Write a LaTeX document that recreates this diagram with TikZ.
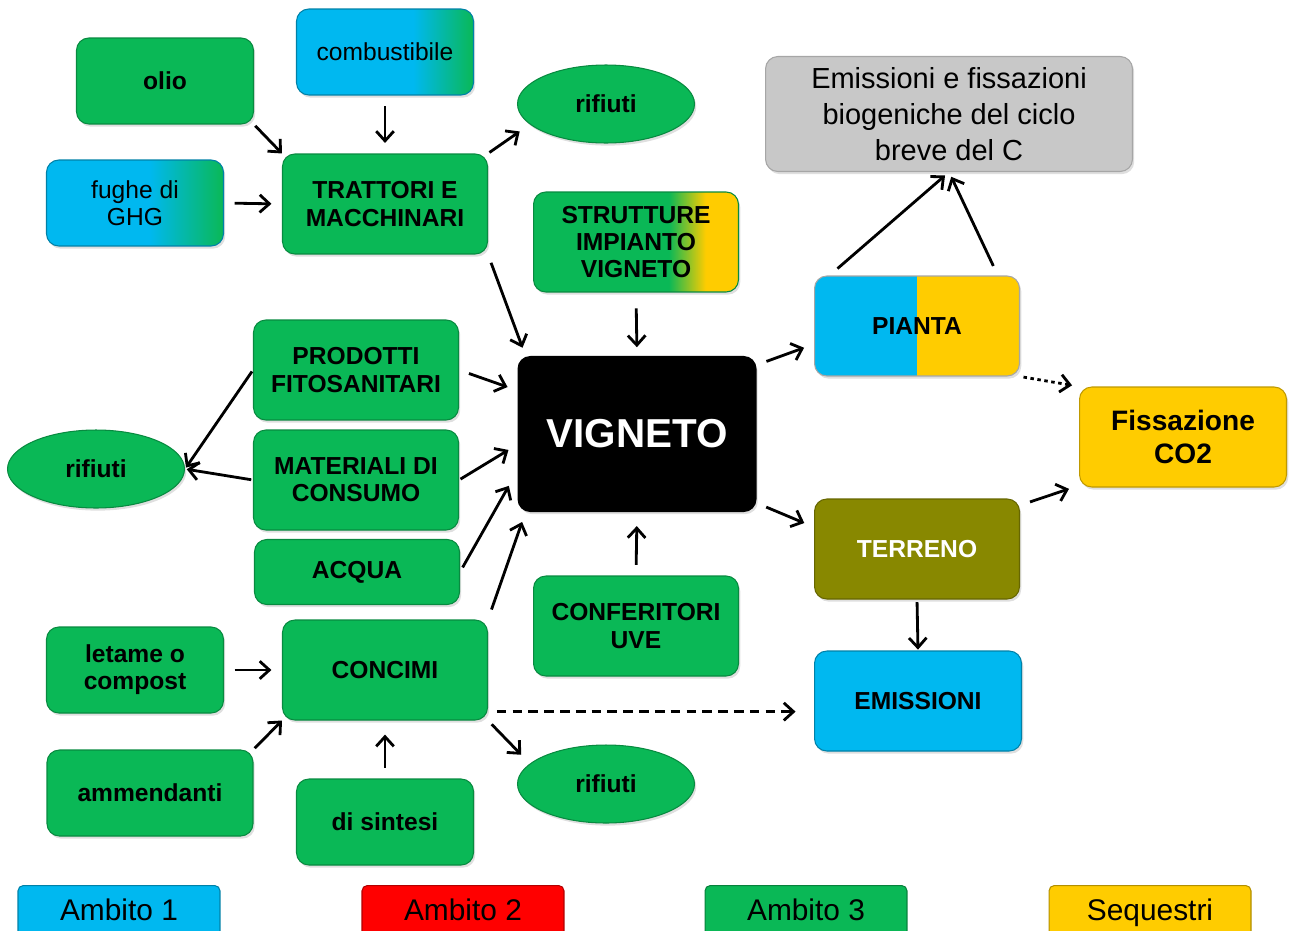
\documentclass[tikz,border=0pt]{standalone}
\usepackage{fontspec}
\setmainfont{Liberation Sans}
\usetikzlibrary{arrows,arrows.meta,shapes.geometric,shadows}

\definecolor{ambito1}{RGB}{0,184,240}
\definecolor{ambito2}{RGB}{255,0,0}
\definecolor{ambito3}{RGB}{10,184,86}
\definecolor{sequestri}{RGB}{255,204,0}
\definecolor{suolo}{RGB}{136,136,0}
\definecolor{biogenico}{RGB}{200,200,200}

% blocchi a due ambiti
\pgfdeclarehorizontalshading{fughe}{100bp}{color(0bp)=(ambito1); color(54bp)=(ambito1); color(75bp)=(ambito3); color(100bp)=(ambito3)}
\pgfdeclarehorizontalshading{comb}{100bp}{color(0bp)=(ambito1); color(58bp)=(ambito1); color(75bp)=(ambito3); color(100bp)=(ambito3)}
\pgfdeclarehorizontalshading{strutt}{100bp}{color(0bp)=(ambito3); color(58bp)=(ambito3); color(67bp)=(sequestri); color(100bp)=(sequestri)}

\newcommand{\blockfont}{\fontsize{14}{15.5}\selectfont\bfseries}
\newcommand{\plainfont}{\fontsize{14}{15.5}\selectfont}

\begin{document}
\begin{tikzpicture}[x=0.02cm,y=-0.02cm,>={Straight Barb[length=5.5pt,width=10pt]}]
\tikzstyle{block} = [rectangle, rounded corners=7pt, draw=ambito3!75!black, fill=ambito3,
line width=0.6pt, align=center, font=\blockfont, minimum width=4.1cm, minimum height=2cm,
inner sep=2pt, drop shadow={opacity=0.25,shadow xshift=1pt,shadow yshift=-1.5pt}]
\tikzstyle{block_in} = [block, minimum width=3.54cm, minimum height=1.72cm]
\tikzstyle{waste} = [ellipse, draw=ambito3!75!black, fill=ambito3, line width=0.6pt,
font=\blockfont, minimum width=3.54cm, minimum height=1.56cm, inner sep=0pt,
drop shadow={opacity=0.25,shadow xshift=1pt,shadow yshift=-1.5pt}]
\tikzstyle{legend} = [rectangle, rounded corners=3pt, line width=0.6pt, anchor=north,
font=\fontsize{17}{17}\selectfont, text height=12.5pt, text depth=3.5pt,
minimum width=4.04cm, minimum height=1.1cm]
\tikzstyle{line} = [draw, line width=1.6pt, ->, shorten <=6pt, shorten >=6pt]

\useasboundingbox (0,0) rectangle (1290,930);

% macchine
\node [block_in] (olio) at (165,81) {olio};
\node [block_in, shading=comb, draw=ambito1!70!black, font=\plainfont] (combustibile) at (385,52) {combustibile};
\node [block_in, shading=fughe, draw=ambito1!70!black, font=\plainfont] (fughe) at (135,203) {fughe di\\GHG};
\node [block] (trattori) at (385,204) {TRATTORI E\\MACCHINARI};
\node [waste] (rifiuti1) at (606,104) {rifiuti};
\node [block, shading=strutt] (strutture) at (636,242) {STRUTTURE\\IMPIANTO\\VIGNETO};
% vigneto e uscite
\node [block, fill=biogenico, draw=black!35, minimum width=7.34cm, minimum height=2.3cm,
font=\fontsize{16.5}{20.4}\selectfont] (ciclo) at (949,114) {Emissioni e fissazioni\\biogeniche del ciclo\\breve del C};
\node [block, fill=black, draw=black, text=white, minimum width=4.76cm, minimum height=3.1cm,
font=\fontsize{23}{23}\selectfont\bfseries] (vigneto) at (637,434) {VIGNETO};
\node [block, fill=sequestri, draw=black!35, path picture={\fill[ambito1, sharp corners] (path picture bounding box.south west) rectangle (path picture bounding box.north);}] (pianta) at (917,326) {PIANTA};
\node [block, fill=sequestri, draw=sequestri!75!black, minimum width=4.14cm,
font=\fontsize{16}{18.7}\selectfont\bfseries] (fissazione) at (1183,437) {Fissazione\\CO2};
\node [block, fill=suolo, draw=suolo!75!black, text=white] (terreno) at (917,549) {TERRENO};
\node [block, fill=ambito1, draw=ambito1!70!black, minimum width=4.14cm] (emissioni) at (918,701) {EMISSIONI};
% ingressi
\node [block] (prodotti) at (356,370) {PRODOTTI\\FITOSANITARI};
\node [block] (materiali) at (356,480) {MATERIALI DI\\CONSUMO};
\node [block, minimum height=1.3cm] (acqua) at (357,572) {ACQUA};
\node [waste] (rifiuti2) at (96,469) {rifiuti};
\node [block] (conferitori) at (636,626) {CONFERITORI\\UVE};
% concimi
\node [block_in] (letame) at (135,670) {letame o\\compost};
\node [block] (concimi) at (385,670) {CONCIMI};
\node [block_in, minimum width=4.12cm] (ammendanti) at (150,793) {ammendanti};
\node [block_in] (sintesi) at (385,822) {di sintesi};
\node [waste] (rifiuti3) at (606,784) {rifiuti};
% legenda
\node [legend, fill=ambito1, draw=ambito1!70!black] (amb1) at (119,885) {Ambito 1};
\node [legend, fill=ambito2, draw=ambito2!70!black] (amb2) at (463,885) {Ambito 2};
\node [legend, fill=ambito3, draw=ambito3!70!black] (amb3) at (806,885) {Ambito 3};
\node [legend, fill=sequestri, draw=sequestri!70!black] (seq) at (1150,885) {Sequestri};

\tikzstyle{every path}=[line]
\path [shorten <=1pt, shorten >=0pt] (olio.south east) -- (trattori.north west);
\path (combustibile.south) -- (trattori.north);
\path (fughe.east) -- (trattori.west);
\path [shorten <=1pt, shorten >=7pt] (trattori.north east) -- (rifiuti1.195);
\path [shorten <=5pt, shorten >=5pt] (trattori.south east) -- (vigneto.145);
\path [shorten <=9pt, shorten >=5pt] (strutture.south) -- (vigneto.north);
\path (prodotti.east) -- (vigneto.160);
\path [shorten <=1pt] (materiali.east) -- (vigneto.185);
\path [shorten <=3pt, shorten >=10pt] (acqua.east) -- (vigneto.197);
\path (concimi.north east) -- (vigneto.215);
\path [shorten >=8pt] (conferitori.north) -- (vigneto.south);
\path [shorten <=1pt, shorten >=1pt] (prodotti.west) -- (rifiuti2.east);
\path [shorten <=1pt, shorten >=1pt] (materiali.west) -- (rifiuti2.east);

\path (vigneto.30) -- (pianta.190);
\path (vigneto.-30) -- (terreno.168);
\path [shorten >=3pt] (pianta.150) -- (ciclo.south);
\path [shorten >=3pt] (pianta.32) -- (ciclo.south);
\path [dash pattern=on 2pt off 2pt, shorten <=2pt, shorten >=4pt] (pianta.south east) -- (fissazione.north west);
\path (terreno.23) -- (fissazione.205);
\path [shorten <=1.5pt, shorten >=0.5pt] (terreno.south) -- (emissioni.north);

\path [dash pattern=on 5.5pt off 3.5pt, shorten <=5pt, shorten >=10.5pt] (concimi.-22) -- (concimi.-22 -| emissioni.west);
\path (letame.east) -- (concimi.west);
\path [shorten <=1pt, shorten >=0pt] (ammendanti.north east) -- (concimi.south west);
\path [shorten <=6pt, shorten >=8pt] (sintesi.north) -- (concimi.south);
\path [shorten <=3pt, shorten >=7pt] (concimi.south east) -- (rifiuti3.165);

\end{tikzpicture}
\end{document}
